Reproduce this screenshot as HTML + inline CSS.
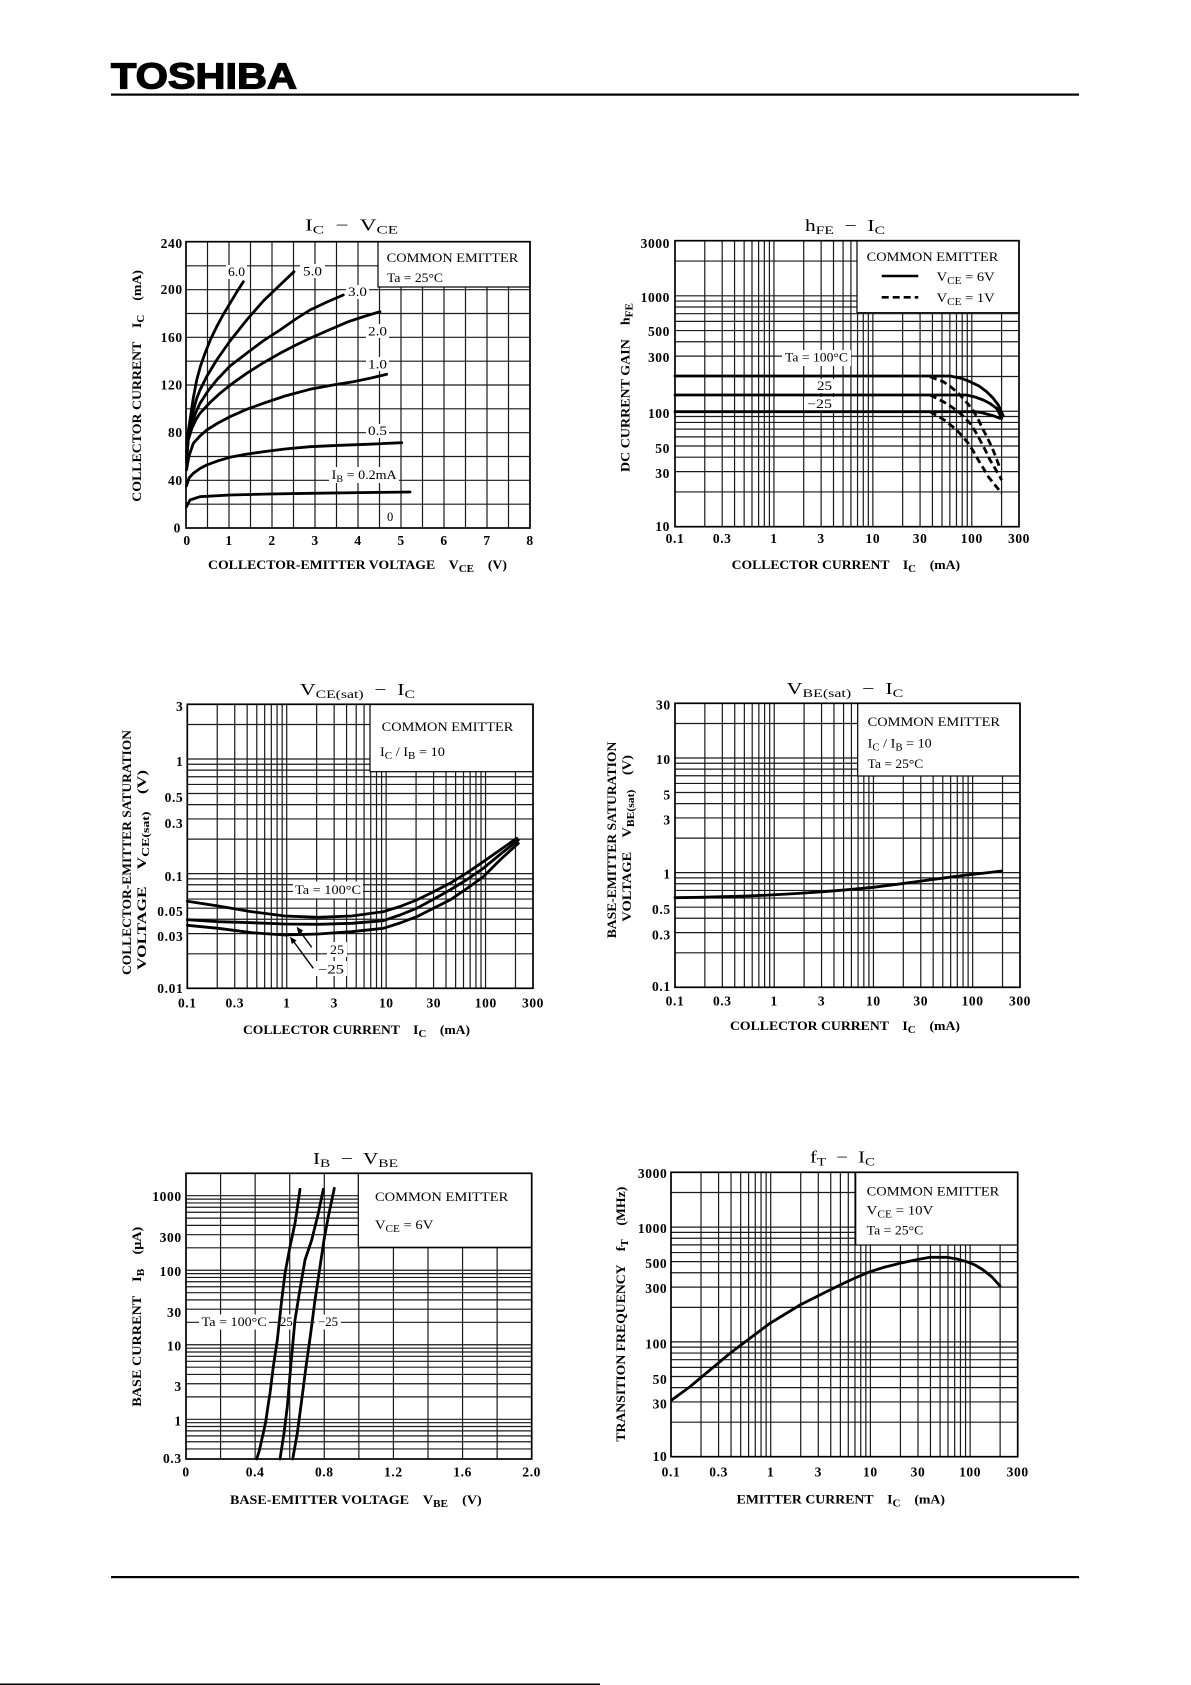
<!DOCTYPE html>
<html><head><meta charset="utf-8"><style>
html,body{margin:0;padding:0;background:#fff;}
svg{display:block;}
svg text{white-space:pre;}
.s{font-family:"Liberation Serif",serif;fill:#000;}
.b{font-weight:bold;}
.tk{font-size:13.5px;letter-spacing:0.6px;}
.grid{stroke:#1a1a1a;stroke-width:1.2;fill:none;}
.frame{stroke:#000;stroke-width:1.7;fill:none;}
.cv{stroke:#000;stroke-width:2.8;fill:none;stroke-linejoin:round;stroke-linecap:round;}
.dash{stroke-dasharray:7 4;stroke-linecap:butt;}
.leg{fill:#fff;stroke:#000;stroke-width:1.2;}
.wb{fill:#fff;}
</style></head><body>
<svg width="1191" height="1685" viewBox="0 0 1191 1685" xmlns="http://www.w3.org/2000/svg" xml:space="preserve">
<rect x="0" y="0" width="1191" height="1685" fill="#fff"/>
<defs>
<g id="lg">
<path class="grid" d="M29.87 0V285M47.34 0V285M59.74 0V285M69.35 0V285M77.21 0V285M83.85 0V285M89.6 0V285M94.68 0V285M99.22 0V285M129.09 0V285M146.56 0V285M158.96 0V285M168.57 0V285M176.43 0V285M183.07 0V285M188.82 0V285M193.9 0V285M198.44 0V285M228.31 0V285M245.78 0V285M258.18 0V285M267.79 0V285M275.65 0V285M282.29 0V285M288.04 0V285M293.12 0V285M297.66 0V285M327.53 0V285"/>
<path class="grid" d="M0 250.37H345M0 230.11H345M0 215.73H345M0 204.58H345M0 195.47H345M0 187.77H345M0 181.1H345M0 175.21H345M0 169.95H345M0 135.32H345M0 115.06H345M0 100.68H345M0 89.53H345M0 80.42H345M0 72.72H345M0 66.05H345M0 60.16H345M0 54.9H345M0 20.27H345"/>
</g>
</defs>

<!-- Header -->
<text x="111" y="88.5" font-family="Liberation Sans, sans-serif" font-size="36" font-weight="bold" stroke="#000" stroke-width="1.3" fill="#000" textLength="186" lengthAdjust="spacingAndGlyphs">TOSHIBA</text>
<rect x="111" y="93.5" width="968" height="2.2" fill="#000"/>
<rect x="111" y="1576" width="968" height="2.2" fill="#000"/>
<rect x="0" y="1683.5" width="600" height="1.5" fill="#000"/>

<!-- ============ Plot 1: IC - VCE ============ -->
<text class="s" x="305" y="230.5" font-size="16.5" textLength="93" lengthAdjust="spacingAndGlyphs">I<tspan font-size="12" dy="3">C</tspan><tspan dy="-3">  −  V</tspan><tspan font-size="12" dy="3">CE</tspan></text>
<path class="grid" d="M207.5 241.7V528M229 241.7V528M250.5 241.7V528M272 241.7V528M293.5 241.7V528M315 241.7V528M336.5 241.7V528M358 241.7V528M379.5 241.7V528M401 241.7V528M422.5 241.7V528M444 241.7V528M465.5 241.7V528M487 241.7V528M508.5 241.7V528"/>
<path class="grid" d="M186 504.17H530M186 480.33H530M186 456.5H530M186 432.67H530M186 408.83H530M186 385H530M186 361.17H530M186 337.33H530M186 313.5H530M186 289.67H530M186 265.83H530"/>
<rect class="leg" x="378" y="241.7" width="152" height="45.3"/>
<rect class="frame" x="186" y="241.7" width="344" height="286.3"/>
<rect class="wb" x="226" y="265" width="21" height="14"/>
<rect class="wb" x="300" y="264" width="25" height="14"/>
<rect class="wb" x="346" y="285" width="23" height="14"/>
<rect class="wb" x="366" y="324" width="23" height="14"/>
<rect class="wb" x="366" y="357" width="23" height="14"/>
<rect class="wb" x="366" y="424" width="23" height="14"/>
<rect class="wb" x="329" y="467" width="70" height="16"/>
<rect class="wb" x="384" y="510" width="11" height="14"/>
<polyline class="cv" points="186.5,506.7 190,500 200,496.7 230,495 270,494 310,493.3 360,492.6 410,492"/>
<polyline class="cv" points="186.5,486 189,478 193.3,473.3 200,468.5 206.7,465 218,460.8 230,457.3 246,454.2 263.3,451.7 285,449 310,446.7 340,445.3 366.7,444.3 401.7,442.7"/>
<polyline class="cv" points="186.5,470 189,456 193.3,443.3 200,436 206.7,430 218,423 230,416.7 246,409.6 263.3,403.3 285,396 310,389.3 333,385 353.3,381.7 370,378.2 386.7,374.3"/>
<polyline class="cv" points="186.5,462 188.3,440 192,428 196,419.5 200,413.3 210,402.5 220,393.3 233,383 246.7,373.3 263,363 280,353.3 295,345.5 310,338.3 330,329.5 348.3,321.7 364,316.5 380,311.7"/>
<polyline class="cv" points="186.5,462 188.3,436.7 192,423 196,412 200,403.3 208,391 216.7,380 230,366 246.7,353.3 263,341 280,330 295,319.5 310,310 327,302 343.3,295"/>
<polyline class="cv" points="186.5,458 188,440 190,426.7 193,412 196.5,399 200,390 207,376 216.7,360 230,341 246.7,320 263.3,301 280,285 294,271.7"/>
<polyline class="cv" points="186.5,452 188,433 190,420 193.3,398 196.7,380 200.5,366 205,353.3 210.5,339.5 216.7,326.7 223,315 230,303.3 236.5,292.5 243.3,281.7"/>
<g class="s" font-size="12.5">
<text x="228" y="276" textLength="17" lengthAdjust="spacingAndGlyphs">6.0</text>
<text x="303" y="275.5" textLength="19" lengthAdjust="spacingAndGlyphs">5.0</text>
<text x="348" y="296" textLength="19" lengthAdjust="spacingAndGlyphs">3.0</text>
<text x="368" y="335.5" textLength="19" lengthAdjust="spacingAndGlyphs">2.0</text>
<text x="368" y="368.5" textLength="19" lengthAdjust="spacingAndGlyphs">1.0</text>
<text x="368" y="435" textLength="19" lengthAdjust="spacingAndGlyphs">0.5</text>
<text x="331.7" y="479" textLength="65" lengthAdjust="spacingAndGlyphs">I<tspan font-size="9" dy="3">B</tspan><tspan dy="-3"> = 0.2mA</tspan></text>
<text x="387" y="521">0</text>
</g>
<g class="s" font-size="13">
<text x="386.7" y="261.8" textLength="131.6" lengthAdjust="spacingAndGlyphs">COMMON EMITTER</text>
<text x="387" y="282" textLength="56" lengthAdjust="spacingAndGlyphs">Ta = 25°C</text>
</g>
<g class="s b tk" text-anchor="end">
<text x="182.7" y="247.8">240</text><text x="182.7" y="294.2">200</text><text x="182.7" y="341.8">160</text><text x="182.7" y="389.5">120</text><text x="182.7" y="437.2">80</text><text x="182.7" y="484.8">40</text><text x="181" y="532.5">0</text>
</g>
<g class="s b tk" text-anchor="middle">
<text x="187" y="545">0</text><text x="229" y="545">1</text><text x="272" y="545">2</text><text x="315" y="545">3</text><text x="358" y="545">4</text><text x="401" y="545">5</text><text x="444" y="545">6</text><text x="487" y="545">7</text><text x="530" y="545">8</text>
</g>
<text class="s b" x="208" y="569" font-size="12.5" textLength="299" lengthAdjust="spacingAndGlyphs">COLLECTOR-EMITTER VOLTAGE    V<tspan font-size="10" dy="3">CE</tspan><tspan dy="-3">    (V)</tspan></text>
<text class="s b" transform="translate(141,501.7) rotate(-90)" x="0" y="0" font-size="12.5" textLength="231.7" lengthAdjust="spacingAndGlyphs">COLLECTOR CURRENT    I<tspan font-size="10" dy="3">C</tspan><tspan dy="-3">    (mA)</tspan></text>

<!-- ============ Plot 2: hFE - IC ============ -->
<text class="s" x="805" y="231" font-size="16.5" textLength="80" lengthAdjust="spacingAndGlyphs">h<tspan font-size="12" dy="3">FE</tspan><tspan dy="-3">  −  I</tspan><tspan font-size="12" dy="3">C</tspan></text>
<use href="#lg" transform="translate(675,240.7) scale(0.9971,1.0035)"/>
<rect class="leg" x="857" y="240.7" width="162" height="72"/>
<rect class="frame" x="675" y="240.7" width="344" height="286"/>
<rect class="wb" x="782" y="350" width="69" height="16"/>
<rect class="wb" x="813" y="379" width="22" height="14"/>
<rect class="wb" x="804" y="397" width="31" height="14"/>
<polyline class="cv" points="675,376 950,376 962,378.5 970,381.7 979,386 986.7,391.7 993,398 998.3,405 1003.3,416"/>
<polyline class="cv" points="675,395 966.7,395 975,397 983.3,400 990,403.5 996.7,408.3 1001.7,418.3"/>
<polyline class="cv" points="675,411.7 975,411.7 981,412.5 986.7,414 994,416 1000,418.3"/>
<polyline class="cv dash" points="930,376.7 943.3,381.7 951,387 958.3,393.3 965,400.5 971.7,408.3 977,417 981.7,426.7 986.7,436.5 991.7,446.7 996,457.5 1000,468.3"/>
<polyline class="cv dash" points="930,395 943.3,401.7 951,406.5 958.3,411.7 964,417 970,423.3 975,431 980,440 985,449.5 990,460 996,470 1001.7,480"/>
<polyline class="cv dash" points="930,411.7 943.3,419.3 950,424.5 956.7,430 962.5,436.5 968.3,443.3 973.5,451.5 978.3,460 983.5,468.5 988.3,476.7 995,485 1001.7,493.3"/>
<g class="s" font-size="12.5">
<text x="785" y="361.7" textLength="63" lengthAdjust="spacingAndGlyphs">Ta = 100°C</text>
<text x="817" y="390" textLength="15" lengthAdjust="spacingAndGlyphs">25</text>
<text x="807" y="408" textLength="25" lengthAdjust="spacingAndGlyphs">−25</text>
</g>
<g class="s" font-size="13">
<text x="866.7" y="261" textLength="131.6" lengthAdjust="spacingAndGlyphs">COMMON EMITTER</text>
<text x="936.7" y="281" textLength="58" lengthAdjust="spacingAndGlyphs">V<tspan font-size="10" dy="3">CE</tspan><tspan dy="-3"> = 6V</tspan></text>
<text x="936.7" y="302" textLength="58" lengthAdjust="spacingAndGlyphs">V<tspan font-size="10" dy="3">CE</tspan><tspan dy="-3"> = 1V</tspan></text>
</g>
<line x1="881.7" y1="276" x2="918.3" y2="276" stroke="#000" stroke-width="2.6"/>
<line x1="881.7" y1="297.3" x2="918.3" y2="297.3" stroke="#000" stroke-width="2.6" stroke-dasharray="7 4"/>
<g class="s b tk" text-anchor="end">
<text x="670" y="247.8">3000</text><text x="670" y="302.2">1000</text><text x="670" y="336.2">500</text><text x="670" y="362.2">300</text><text x="670" y="417.8">100</text><text x="670" y="452.8">50</text><text x="670" y="477.8">30</text><text x="670" y="531.2">10</text>
</g>
<g class="s b tk" text-anchor="middle">
<text x="675" y="543">0.1</text><text x="722.2" y="543">0.3</text><text x="773.9" y="543">1</text><text x="821.1" y="543">3</text><text x="872.9" y="543">10</text><text x="920.1" y="543">30</text><text x="971.8" y="543">100</text><text x="1019" y="543">300</text>
</g>
<text class="s b" x="731.7" y="569" font-size="12.5" textLength="228.3" lengthAdjust="spacingAndGlyphs">COLLECTOR CURRENT    I<tspan font-size="10" dy="3">C</tspan><tspan dy="-3">    (mA)</tspan></text>
<text class="s b" transform="translate(629.5,472) rotate(-90)" x="0" y="0" font-size="12.5" textLength="169" lengthAdjust="spacingAndGlyphs">DC CURRENT GAIN    h<tspan font-size="10" dy="3">FE</tspan></text>

<!-- ============ Plot 3: VCE(sat) - IC ============ -->
<text class="s" x="300" y="695" font-size="16.5" textLength="115" lengthAdjust="spacingAndGlyphs">V<tspan font-size="12" dy="3">CE(sat)</tspan><tspan dy="-3">  −  I</tspan><tspan font-size="12" dy="3">C</tspan></text>
<use href="#lg" transform="translate(187.3,704.3) scale(1.002,0.9965)"/>
<rect class="leg" x="370" y="704.3" width="163" height="67.4"/>
<rect class="frame" x="187.3" y="704.3" width="345.7" height="284"/>
<rect class="wb" x="293" y="881.5" width="70" height="17"/>
<rect class="wb" x="327" y="942" width="20" height="15"/>
<rect class="wb" x="315" y="961" width="32" height="15"/>
<polyline class="cv" points="187.3,901.3 218.3,906 251.7,911.7 285,916 318.3,917.3 351.7,916 383.3,911.7 400,906.5 416.7,900 433,892 450,883.3 467,872.8 483.3,861.7 500,850 516.7,838.3"/>
<polyline class="cv" points="187.3,919.7 218.3,921.7 251.7,922.7 285,924 318.3,924.3 351.7,923.3 383.3,920.7 400,915 416.7,908.3 433,899.5 450,890 467,879.5 483.3,868.3 500,854.5 518.3,840"/>
<polyline class="cv" points="187.3,925.3 218.3,928.3 251.7,932.7 285,935 318.3,934 351.7,931.7 383.3,928.3 400,923 416.7,916.7 433,908.5 450,900 467,888.5 483.3,876.7 500,860 518.3,843.3"/>
<line x1="311.7" y1="947.3" x2="299" y2="930" stroke="#000" stroke-width="1.4"/>
<polygon points="296.7,926.7 303.2,930.6 298.4,934.2" fill="#000"/>
<line x1="313.3" y1="968.3" x2="292.5" y2="940" stroke="#000" stroke-width="1.4"/>
<polygon points="290,936.7 296.6,940.5 291.8,944.1" fill="#000"/>
<g class="s" font-size="12.5">
<text x="295" y="894" textLength="66" lengthAdjust="spacingAndGlyphs">Ta = 100°C</text>
<text x="330" y="954" textLength="14" lengthAdjust="spacingAndGlyphs">25</text>
<text x="318" y="973.5" textLength="26" lengthAdjust="spacingAndGlyphs">−25</text>
</g>
<g class="s" font-size="13">
<text x="381.7" y="731" textLength="131.6" lengthAdjust="spacingAndGlyphs">COMMON EMITTER</text>
<text x="380" y="756" textLength="65" lengthAdjust="spacingAndGlyphs">I<tspan font-size="10" dy="3">C</tspan><tspan dy="-3"> / I</tspan><tspan font-size="10" dy="3">B</tspan><tspan dy="-3"> = 10</tspan></text>
</g>
<g class="s b tk" text-anchor="end">
<text x="183.3" y="711.2">3</text><text x="183.3" y="766.2">1</text><text x="183.3" y="802.2">0.5</text><text x="183.3" y="827.8">0.3</text><text x="183.3" y="881.2">0.1</text><text x="183.3" y="916.2">0.05</text><text x="183.3" y="941.2">0.03</text><text x="183.3" y="992.8">0.01</text>
</g>
<g class="s b tk" text-anchor="middle">
<text x="187.3" y="1007.5">0.1</text><text x="234.8" y="1007.5">0.3</text><text x="286.8" y="1007.5">1</text><text x="334.3" y="1007.5">3</text><text x="386.3" y="1007.5">10</text><text x="433.8" y="1007.5">30</text><text x="485.8" y="1007.5">100</text><text x="533" y="1007.5">300</text>
</g>
<text class="s b" x="243" y="1034" font-size="12.5" textLength="227" lengthAdjust="spacingAndGlyphs">COLLECTOR CURRENT    I<tspan font-size="10" dy="3">C</tspan><tspan dy="-3">    (mA)</tspan></text>
<text class="s b" transform="translate(131,975) rotate(-90)" x="0" y="0" font-size="12.5" textLength="245" lengthAdjust="spacingAndGlyphs">COLLECTOR-EMITTER SATURATION</text>
<text class="s b" transform="translate(146,970) rotate(-90)" x="0" y="0" font-size="12.5" textLength="200" lengthAdjust="spacingAndGlyphs">VOLTAGE    V<tspan font-size="10" dy="3">CE(sat)</tspan><tspan dy="-3">    (V)</tspan></text>

<!-- ============ Plot 4: VBE(sat) - IC ============ -->
<text class="s" x="786.7" y="694" font-size="16.5" textLength="116.6" lengthAdjust="spacingAndGlyphs">V<tspan font-size="12" dy="3">BE(sat)</tspan><tspan dy="-3">  −  I</tspan><tspan font-size="12" dy="3">C</tspan></text>
<use href="#lg" transform="translate(675,703.3) scale(1,0.9965)"/>
<rect class="leg" x="857.7" y="703.3" width="162.3" height="72.7"/>
<rect class="frame" x="675" y="703.3" width="345" height="284"/>
<polyline class="cv" stroke-width="3" points="675,897.7 700,897.3 723.3,896.7 747,896 770,895 797,893.5 823.3,891.7 848,889.7 873.3,887.3 898,884.2 923.3,880.7 946,877.7 966.7,875 985,873 1001.7,871"/>
<g class="s" font-size="13">
<text x="867.7" y="726" textLength="132.3" lengthAdjust="spacingAndGlyphs">COMMON EMITTER</text>
<text x="867.7" y="747.5" textLength="64" lengthAdjust="spacingAndGlyphs">I<tspan font-size="10" dy="3">C</tspan><tspan dy="-3"> / I</tspan><tspan font-size="10" dy="3">B</tspan><tspan dy="-3"> = 10</tspan></text>
<text x="867.7" y="768" textLength="55.6" lengthAdjust="spacingAndGlyphs">Ta = 25°C</text>
</g>
<g class="s b tk" text-anchor="end">
<text x="670.7" y="709.5">30</text><text x="670.7" y="763.8">10</text><text x="670.7" y="799.5">5</text><text x="670.7" y="824.5">3</text><text x="670.7" y="878.5">1</text><text x="670.7" y="913.8">0.5</text><text x="670.7" y="939.5">0.3</text><text x="670.7" y="991.2">0.1</text>
</g>
<g class="s b tk" text-anchor="middle">
<text x="675" y="1005.5">0.1</text><text x="722.3" y="1005.5">0.3</text><text x="774.2" y="1005.5">1</text><text x="821.5" y="1005.5">3</text><text x="873.4" y="1005.5">10</text><text x="920.7" y="1005.5">30</text><text x="972.6" y="1005.5">100</text><text x="1020" y="1005.5">300</text>
</g>
<text class="s b" x="730" y="1030" font-size="12.5" textLength="230" lengthAdjust="spacingAndGlyphs">COLLECTOR CURRENT    I<tspan font-size="10" dy="3">C</tspan><tspan dy="-3">    (mA)</tspan></text>
<text class="s b" transform="translate(616,938.3) rotate(-90)" x="0" y="0" font-size="12.5" textLength="196.6" lengthAdjust="spacingAndGlyphs">BASE-EMITTER SATURATION</text>
<text class="s b" transform="translate(631,921.7) rotate(-90)" x="0" y="0" font-size="12.5" textLength="166.7" lengthAdjust="spacingAndGlyphs">VOLTAGE    V<tspan font-size="10" dy="3">BE(sat)</tspan><tspan dy="-3">    (V)</tspan></text>

<!-- ============ Plot 5: IB - VBE ============ -->
<text class="s" x="313" y="1164" font-size="16.5" textLength="85" lengthAdjust="spacingAndGlyphs">I<tspan font-size="12" dy="3">B</tspan><tspan dy="-3">  −  V</tspan><tspan font-size="12" dy="3">BE</tspan></text>
<path class="grid" d="M220.57 1173.3V1459M255.14 1173.3V1459M289.71 1173.3V1459M324.28 1173.3V1459M358.85 1173.3V1459M393.42 1173.3V1459M427.99 1173.3V1459M462.56 1173.3V1459M497.13 1173.3V1459"/>
<path class="grid" d="M186 1448.96H531.7M186 1441.74H531.7M186 1435.84H531.7M186 1430.84H531.7M186 1426.52H531.7M186 1422.71H531.7M186 1419.3H531.7M186 1396.86H531.7M186 1383.74H531.7M186 1374.43H531.7M186 1367.21H531.7M186 1361.31H531.7M186 1356.31H531.7M186 1351.99H531.7M186 1348.18H531.7M186 1344.77H531.7M186 1322.33H531.7M186 1309.21H531.7M186 1299.9H531.7M186 1292.68H531.7M186 1286.78H531.7M186 1281.78H531.7M186 1277.46H531.7M186 1273.65H531.7M186 1270.24H531.7M186 1247.8H531.7M186 1234.68H531.7M186 1225.37H531.7M186 1218.15H531.7M186 1212.25H531.7M186 1207.25H531.7M186 1202.93H531.7M186 1199.12H531.7M186 1195.71H531.7"/>
<rect class="leg" x="358.3" y="1173.3" width="173.4" height="74"/>
<rect class="frame" x="186" y="1173.3" width="345.7" height="285.7"/>
<rect class="wb" x="199" y="1314.5" width="70" height="15"/>
<rect class="wb" x="278" y="1314.5" width="17" height="15"/>
<rect class="wb" x="315" y="1314.5" width="26" height="15"/>
<polyline class="cv" points="256.7,1459 259.5,1450 261.7,1440 264,1430 266,1420 268,1406 270,1393.3 273.3,1366.7 277.3,1340 281.7,1300 285,1273.3 290,1246.7 295,1223.3 300,1189.3"/>
<polyline class="cv" points="280,1459 284,1433.3 287.3,1406.7 290.7,1366.7 295,1320 299.3,1293.3 305,1260 311.7,1240 318.3,1213.3 323.3,1189.3"/>
<polyline class="cv" points="292.7,1459 297.3,1433.3 301.7,1400 306,1366.7 310.7,1333.3 315,1300 320,1266.7 324,1240 328.3,1216.7 334.3,1188.3"/>
<g class="s" font-size="12.5">
<text x="201.7" y="1326" textLength="65" lengthAdjust="spacingAndGlyphs">Ta = 100°C</text>
<text x="280" y="1326" textLength="12.7" lengthAdjust="spacingAndGlyphs">25</text>
<text x="318" y="1326" textLength="20" lengthAdjust="spacingAndGlyphs">−25</text>
</g>
<g class="s" font-size="13">
<text x="375" y="1201" textLength="133.3" lengthAdjust="spacingAndGlyphs">COMMON EMITTER</text>
<text x="375" y="1229" textLength="58.3" lengthAdjust="spacingAndGlyphs">V<tspan font-size="10" dy="3">CE</tspan><tspan dy="-3"> = 6V</tspan></text>
</g>
<g class="s b tk" text-anchor="end">
<text x="181.7" y="1201.2">1000</text><text x="181.7" y="1242.2">300</text><text x="181.7" y="1276.2">100</text><text x="181.7" y="1317.2">30</text><text x="181.7" y="1350.5">10</text><text x="181.7" y="1391.2">3</text><text x="181.7" y="1425.5">1</text><text x="181.7" y="1462.8">0.3</text>
</g>
<g class="s b tk" text-anchor="middle">
<text x="186" y="1476.5">0</text><text x="255.1" y="1476.5">0.4</text><text x="324.3" y="1476.5">0.8</text><text x="393.4" y="1476.5">1.2</text><text x="462.6" y="1476.5">1.6</text><text x="531.7" y="1476.5">2.0</text>
</g>
<text class="s b" x="230" y="1504" font-size="12.5" textLength="251.7" lengthAdjust="spacingAndGlyphs">BASE-EMITTER VOLTAGE    V<tspan font-size="10" dy="3">BE</tspan><tspan dy="-3">    (V)</tspan></text>
<text class="s b" transform="translate(141,1406.7) rotate(-90)" x="0" y="0" font-size="12.5" textLength="180" lengthAdjust="spacingAndGlyphs">BASE CURRENT    I<tspan font-size="10" dy="3">B</tspan><tspan dy="-3">    (μA)</tspan></text>

<!-- ============ Plot 6: fT - IC ============ -->
<text class="s" x="810" y="1162.7" font-size="16.5" textLength="65" lengthAdjust="spacingAndGlyphs">f<tspan font-size="12" dy="3">T</tspan><tspan dy="-3">  −  I</tspan><tspan font-size="12" dy="3">C</tspan></text>
<use href="#lg" transform="translate(671,1172.3) scale(1.0049,0.998)"/>
<rect class="leg" x="855.7" y="1172.3" width="162" height="72.7"/>
<rect class="frame" x="671" y="1172.3" width="346.7" height="284.4"/>
<polyline class="cv" stroke-width="3" points="671.7,1400 690,1386.7 710,1370 730,1353.3 750,1338.3 770,1323.3 800,1305 823.3,1293.3 840,1285 855,1278 870,1271.7 885,1267 900,1263.3 915,1260 930,1257.3 946.7,1257.3 957,1259 966.7,1261.7 975,1265 983.3,1270 992,1277 1000,1286"/>
<g class="s" font-size="13">
<text x="866.7" y="1195.5" textLength="132.6" lengthAdjust="spacingAndGlyphs">COMMON EMITTER</text>
<text x="866.7" y="1214.5" textLength="66.6" lengthAdjust="spacingAndGlyphs">V<tspan font-size="10" dy="3">CE</tspan><tspan dy="-3"> = 10V</tspan></text>
<text x="866.7" y="1234.5" textLength="56.6" lengthAdjust="spacingAndGlyphs">Ta = 25°C</text>
</g>
<g class="s b tk" text-anchor="end">
<text x="667.3" y="1177.8">3000</text><text x="667.3" y="1232.8">1000</text><text x="667.3" y="1267.8">500</text><text x="667.3" y="1292.8">300</text><text x="667.3" y="1348.5">100</text><text x="667.3" y="1383.8">50</text><text x="667.3" y="1408.5">30</text><text x="667.3" y="1461.2">10</text>
</g>
<g class="s b tk" text-anchor="middle">
<text x="671" y="1476.5">0.1</text><text x="718.6" y="1476.5">0.3</text><text x="770.7" y="1476.5">1</text><text x="818.3" y="1476.5">3</text><text x="870.4" y="1476.5">10</text><text x="918" y="1476.5">30</text><text x="970.1" y="1476.5">100</text><text x="1017.7" y="1476.5">300</text>
</g>
<text class="s b" x="736.7" y="1503.5" font-size="12.5" textLength="208.3" lengthAdjust="spacingAndGlyphs">EMITTER CURRENT    I<tspan font-size="10" dy="3">C</tspan><tspan dy="-3">    (mA)</tspan></text>
<text class="s b" transform="translate(625,1441.7) rotate(-90)" x="0" y="0" font-size="12.5" textLength="255" lengthAdjust="spacingAndGlyphs">TRANSITION FREQUENCY    f<tspan font-size="10" dy="3">T</tspan><tspan dy="-3">    (MHz)</tspan></text>
</svg>
</body></html>
